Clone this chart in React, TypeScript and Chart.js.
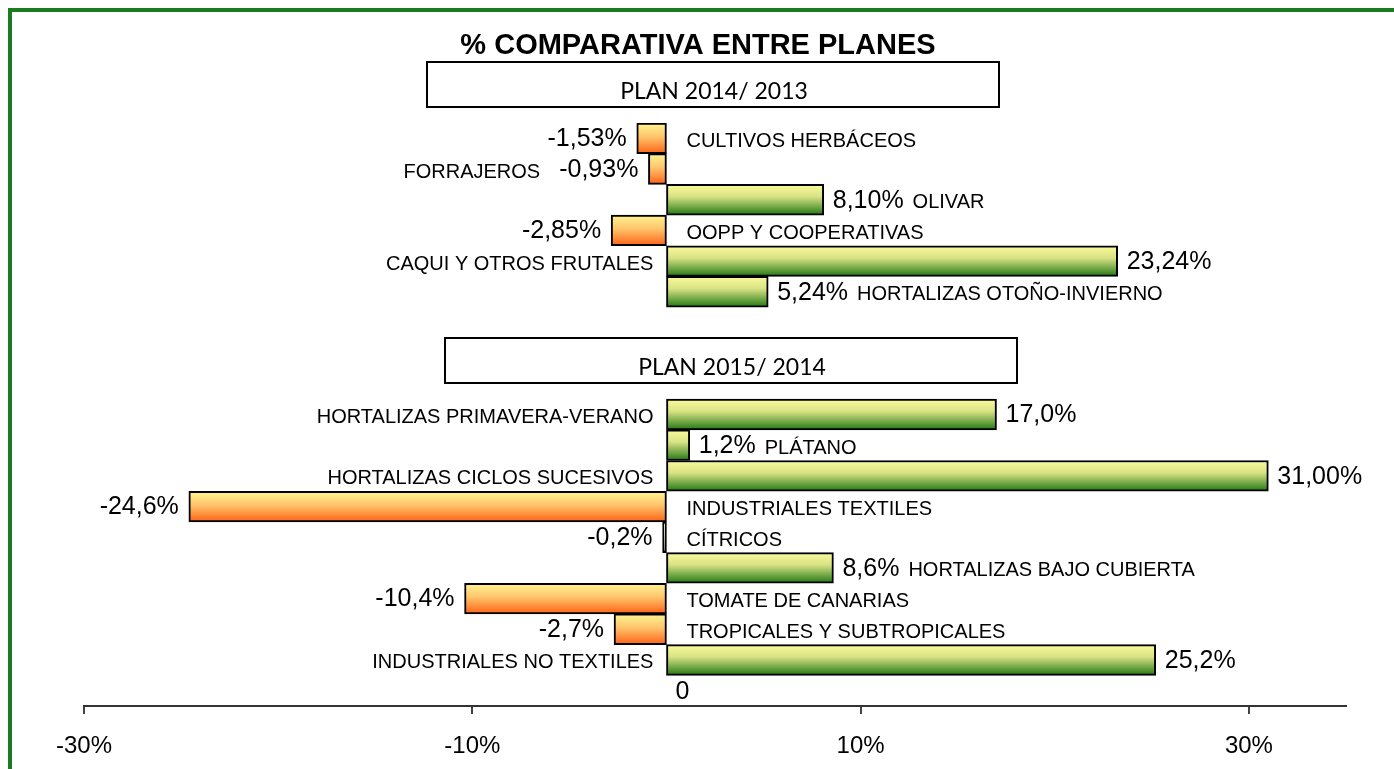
import React, { useEffect, useRef } from 'react';
import { Chart, registerables } from 'chart.js';

Chart.register(...registerables);

const TITLE = '% COMPARATIVA ENTRE PLANES';
const GROUP_LABELS = ['PLAN 2014/ 2013', 'PLAN 2015/ 2014'];

const categories = [
  'CULTIVOS HERBÁCEOS',
  'FORRAJEROS',
  'OLIVAR',
  'OOPP Y COOPERATIVAS',
  'CAQUI Y OTROS FRUTALES',
  'HORTALIZAS OTOÑO-INVIERNO',
  '',
  '',
  '',
  'HORTALIZAS PRIMAVERA-VERANO',
  'PLÁTANO',
  'HORTALIZAS CICLOS SUCESIVOS',
  'INDUSTRIALES TEXTILES',
  'CÍTRICOS',
  'HORTALIZAS BAJO CUBIERTA',
  'TOMATE DE CANARIAS',
  'TROPICALES Y SUBTROPICALES',
  'INDUSTRIALES NO TEXTILES',
  '',
];

const values: (number | null)[] = [
  -1.53, -0.93, 8.1, -2.85, 23.24, 5.24,
  null, null, null,
  17.0, 1.2, 31.0, -24.6, -0.2, 8.6, -10.4, -2.7, 25.2,
  0,
];

const valueLabels = [
  '-1,53%', '-0,93%', '8,10%', '-2,85%', '23,24%', '5,24%',
  '', '', '',
  '17,0%', '1,2%', '31,00%', '-24,6%', '-0,2%', '8,6%', '-10,4%', '-2,7%', '25,2%',
  '0',
];

const barColorKind = [
  'orange', 'orange', 'green', 'orange', 'green', 'green',
  '', '', '',
  'green', 'green', 'green', 'orange', 'green', 'green', 'orange', 'orange', 'green',
  'green',
];

const labelPlacement = [
  'right', 'beforeValue', 'afterValue', 'right', 'left', 'afterValue',
  '', '', '',
  'left', 'afterValue', 'left', 'right', 'right', 'afterValue', 'right', 'right', 'left',
  '',
];

const xTicks = [-30, -10, 10, 30];
const X_MIN = -30;
const X_MAX = 35;

const FONT = '"Liberation Sans", Arial, sans-serif';
const BOX_FONT = 'Lato, "Open Sans", sans-serif';

const overlayPlugin = {
  id: 'overlay',
  afterDraw(chart: any) {
    const ctx = chart.ctx as CanvasRenderingContext2D;
    const meta = chart.getDatasetMeta(0);
    const zeroX = chart.scales.x.getPixelForValue(0);
    ctx.save();

    // frame
    ctx.fillStyle = '#1E7A1E';
    ctx.fillRect(8, 8, 1394 - 8, 4);
    ctx.fillRect(8, 8, 4, 769 - 8);

    // title
    ctx.fillStyle = '#000';
    ctx.font = `bold 29px ${FONT}`;
    ctx.textAlign = 'center';
    ctx.textBaseline = 'middle';
    ctx.fillText(TITLE, 698, 46);

    // group boxes
    const boxes = [
      { x: 427, y: 62, w: 572, h: 45 },
      { x: 445, y: 338, w: 572, h: 45 },
    ];
    boxes.forEach((b, i) => {
      ctx.fillStyle = '#fff';
      ctx.fillRect(b.x, b.y, b.w, b.h);
      ctx.strokeStyle = '#000';
      ctx.lineWidth = 2;
      ctx.strokeRect(b.x, b.y, b.w, b.h);
      ctx.fillStyle = '#000';
      ctx.font = `23px ${BOX_FONT}`;
      ctx.textAlign = 'center';
      ctx.textBaseline = 'middle';
      ctx.fillText(GROUP_LABELS[i], b.x + b.w / 2 + 1, b.y + b.h / 2 + 7);
    });

    // labels
    meta.data.forEach((el: any, i: number) => {
      const v = values[i];
      if (v === null || v === undefined) return;
      const y = el.y;
      const endX = el.x;
      const vl = valueLabels[i];
      ctx.fillStyle = '#000';
      ctx.textBaseline = 'middle';
      ctx.font = `25px ${FONT}`;
      let vStart = 0;
      let vEnd = 0;
      if (vl) {
        const w = ctx.measureText(vl).width;
        if (v < 0) {
          vEnd = endX - 10;
          vStart = vEnd - w;
        } else {
          vStart = endX + 9;
          vEnd = vStart + w;
        }
        ctx.textAlign = 'left';
        ctx.fillText(vl, vStart, y + 1);
      }
      const name = categories[i];
      const mode = labelPlacement[i];
      if (!name || !mode) return;
      ctx.font = `20px ${FONT}`;
      const nw = ctx.measureText(name).width;
      let nx = 0;
      if (mode === 'left') nx = zeroX - 13 - nw;
      else if (mode === 'right') nx = zeroX + 20;
      else if (mode === 'afterValue') nx = vEnd + 9;
      else if (mode === 'beforeValue') nx = vStart - 19 - nw;
      ctx.textAlign = 'left';
      ctx.fillText(name, nx, y + 3);
    });
    ctx.restore();
  },
};

function gradientFor(chart: any, index: number) {
  if (values[index] === 0) return 'rgba(0,0,0,0)';
  const ys = chart.scales?.y;
  const area = chart.chartArea;
  if (!ys || !area) return '#cccccc';
  const h = (area.bottom - area.top) / categories.length;
  const yc = ys.getPixelForValue(index);
  const g = chart.ctx.createLinearGradient(0, yc - h / 2, 0, yc + h / 2);
  if (barColorKind[index] === 'orange') {
    g.addColorStop(0, '#FFF592');
    g.addColorStop(0.45, '#FFC46C');
    g.addColorStop(1, '#FF6214');
  } else {
    g.addColorStop(0, '#FBFB9C');
    g.addColorStop(0.4, '#D8E284');
    g.addColorStop(1, '#217814');
  }
  return g;
}

export default function App() {
  const canvasRef = useRef<HTMLCanvasElement | null>(null);

  useEffect(() => {
    if (!canvasRef.current) return;
    const chart = new Chart(canvasRef.current, {
      type: 'bar',
      data: {
        labels: categories,
        datasets: [
          {
            data: values as any,
            backgroundColor: (c: any) => gradientFor(c.chart, c.dataIndex),
            borderColor: '#000',
            borderWidth: (c: any) => (values[c.dataIndex] === 0 ? 0 : 2),
            borderSkipped: false,
            barPercentage: 1,
            categoryPercentage: 1,
          },
        ],
      },
      options: {
        indexAxis: 'y',
        animation: false,
        responsive: false,
        maintainAspectRatio: false,
        layout: { padding: { left: 84, right: 48, top: 123, bottom: 0 } },
        plugins: {
          legend: { display: false },
          tooltip: { enabled: false },
          title: { display: false },
        },
        scales: {
          x: {
            type: 'linear',
            min: X_MIN,
            max: X_MAX,
            afterBuildTicks: (s: any) => {
              s.ticks = xTicks.map((v) => ({ value: v }));
            },
            afterFit: (s: any) => {
              s.height = 63;
            },
            ticks: {
              callback: (v: any) => `${v}%`,
              font: { family: FONT, size: 24 },
              color: '#000',
              padding: 18,
              maxRotation: 0,
              autoSkip: false,
            },
            grid: {
              drawOnChartArea: false,
              drawTicks: true,
              tickLength: 8,
              color: '#444',
              lineWidth: 2,
            },
            border: { display: true, color: '#333', width: 2 },
          },
          y: {
            type: 'category',
            display: false,
          },
        },
      },
      plugins: [overlayPlugin],
    });
    return () => chart.destroy();
  }, []);

  return (
    <div
      style={{
        position: 'fixed',
        left: 0,
        top: 0,
        width: 1394,
        height: 769,
        background: '#fff',
      }}
    >
      <canvas ref={canvasRef} width={1394} height={769} style={{ display: 'block' }} />
    </div>
  );
}
